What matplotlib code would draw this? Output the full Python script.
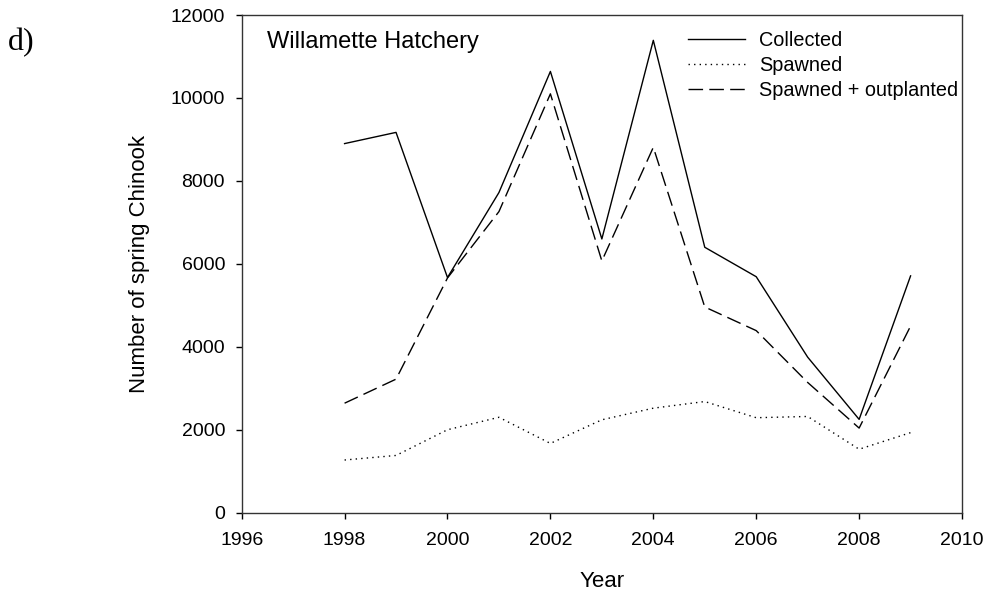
import numpy as np
import matplotlib
matplotlib.use('Agg')
import matplotlib.pyplot as plt

plt.rcParams['font.family'] = ['Liberation Sans', 'DejaVu Sans']

years = [1998, 1999, 2000, 2001, 2002, 2003, 2004, 2005, 2006, 2007, 2008, 2009]
collected = [8900, 9170, 5670, 7720, 10640, 6600, 11390, 6400, 5690, 3750, 2250, 5710]
spawned = [1270, 1380, 2000, 2300, 1670, 2240, 2520, 2680, 2290, 2320, 1530, 1930]
spawned_out = [2640, 3220, 5660, 7260, 10100, 6070, 8810, 4960, 4390, 3140, 2040, 4500]

x_ticks = [1996, 1998, 2000, 2002, 2004, 2006, 2008, 2010]
y_ticks = [0, 2000, 4000, 6000, 8000, 10000, 12000]

fig = plt.figure(figsize=(9.86, 5.94), dpi=100)
ax = fig.add_axes([0.2451, 0.1369, 0.7306, 0.8378])

ax.plot(years, collected, color='black', lw=1.0, ls='-', label='Collected')
ax.plot(years, spawned, color='black', lw=1.0, ls=(0, (1, 3)), label='Spawned')
ax.plot(years, spawned_out, color='black', lw=1.0, ls=(0, (10.5, 4.5)), label='Spawned + outplanted')

ax.set_xlim(1996, 2010)
ax.set_ylim(0, 12000)
ax.set_xticks(x_ticks)
ax.set_yticks(y_ticks)
ax.tick_params(direction='out', length=4, width=1, labelsize=14, pad=8)
ax.tick_params(axis='x', pad=10)
for s in ax.spines.values():
    s.set_linewidth(1.0)
    s.set_color('#333333')

ax.set_xlabel('Year', fontsize=16, labelpad=16)
ax.set_ylabel('Number of spring Chinook', fontsize=16, labelpad=15)

ax.text(0.035, 0.9457, 'Willamette Hatchery', transform=ax.transAxes,
        fontsize=17, va='center', ha='left')

ax.legend(loc='upper left', bbox_to_anchor=(0.6196, 0.967), frameon=False,
          fontsize=14.3, handlelength=2.87, handletextpad=0.7,
          labelspacing=0.30, borderaxespad=0, borderpad=0)

fig.text(0.008, 0.928, 'd)', fontsize=23, va='center', family=['Liberation Serif'])

fig.savefig('out.png', dpi=100)
